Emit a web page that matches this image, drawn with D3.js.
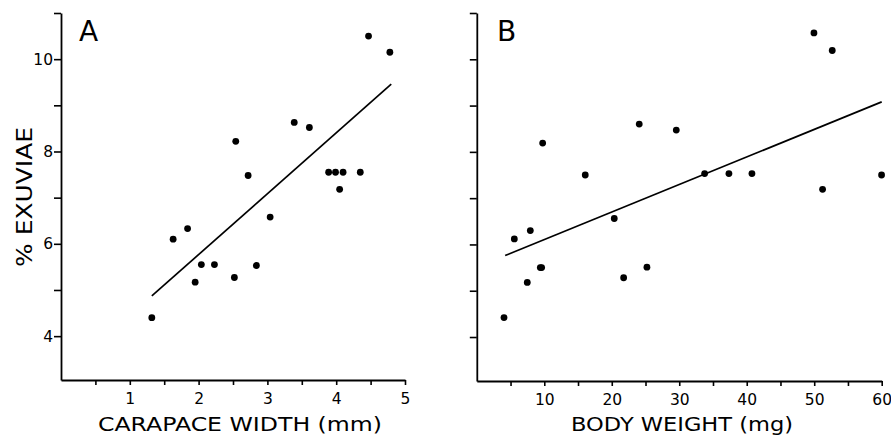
<!DOCTYPE html>
<html>
<head>
<meta charset="utf-8">
<script src="https://cdn.jsdelivr.net/npm/d3@7"></script>
<style>
  html, body { margin: 0; padding: 0; background: #fff; }
  svg { display: block; }
  text { font-family: "DejaVu Sans", sans-serif; fill: #000; }
</style>
</head>
<body>
<svg id="chart" width="891" height="437"></svg>
<script>
// ---------- data ----------
const carapaceWidth = [4.47, 4.78, 3.39, 3.61, 2.54, 2.72, 3.89, 3.99, 4.10, 4.35, 4.05, 3.04, 1.63, 1.84, 2.04, 2.23, 1.95, 2.52, 2.84, 1.32];
const exuviaeA      = [10.50, 10.15, 8.63, 8.52, 8.22, 7.48, 7.55, 7.55, 7.55, 7.55, 7.18, 6.58, 6.10, 6.33, 5.55, 5.55, 5.17, 5.27, 5.53, 4.40];
const bodyWeight    = [49.96, 52.67, 24.07, 29.56, 9.76, 16.07, 33.76, 37.36, 40.77, 59.98, 51.24, 20.37, 5.56, 7.93, 9.41, 9.61, 7.48, 21.76, 25.21, 4.03];
const exuviaeB      = [10.57, 10.19, 8.60, 8.47, 8.19, 7.50, 7.53, 7.53, 7.53, 7.50, 7.19, 6.56, 6.12, 6.30, 5.50, 5.50, 5.18, 5.28, 5.51, 4.42];
const fitA = [[1.32, 4.87], [4.80, 9.46]];
const fitB = [[4.2, 5.76], [60.0, 9.08]];
const yTicks = [4, 5, 6, 7, 8, 9, 10, 11];
const yLabels = [4, 6, 8, 10];
const xTicksA = [0.5, 1, 1.5, 2, 2.5, 3, 3.5, 4, 4.5, 5];
const xLabelsA = [1, 2, 3, 4, 5];
const xTicksB = [5, 10, 15, 20, 25, 30, 35, 40, 45, 50, 55, 60];
const xLabelsB = [10, 20, 30, 40, 50, 60];

// ---------- drawing ----------
const svg = d3.select("#chart");

function panel(cfg) {
  const g = svg.append("g");
  const x = d3.scaleLinear().domain(cfg.xDomain).range(cfg.xRange);
  const y = d3.scaleLinear().domain([3.05, 11]).range([cfg.bottom, 13]);

  const yAxis = d3.axisLeft(y).tickValues(yTicks).tickSize(7).tickSizeOuter(0).tickPadding(1)
    .tickFormat(d => (cfg.showYLabels && yLabels.includes(d)) ? d : "");
  const ya = g.append("g").attr("transform", `translate(${cfg.xRange[0]},0)`).call(yAxis);

  const xAxis = d3.axisBottom(x).tickValues(cfg.xTicks).tickSize(5).tickSizeOuter(0).tickPadding(8)
    .tickFormat(d => cfg.xLabels.includes(d) ? d : "");
  const xa = g.append("g").attr("transform", `translate(0,${cfg.bottom})`).call(xAxis);

  [ya, xa].forEach(a => {
    a.select(".domain").attr("stroke", "#000").attr("stroke-width", 1.8);
    a.selectAll(".tick line").attr("stroke", "#000").attr("stroke-width", 1.6);
    a.selectAll(".tick text").style("font-family", "DejaVu Sans, sans-serif")
      .style("font-size", "15.5px").attr("fill", "#000");
  });

  // regression line
  g.append("path")
    .datum(cfg.fit)
    .attr("d", d3.line().x(d => x(d[0])).y(d => y(d[1])))
    .attr("fill", "none").attr("stroke", "#000").attr("stroke-width", 1.7);

  // points
  g.selectAll("circle.pt")
    .data(cfg.xs.map((v, i) => [v, cfg.ys[i]]))
    .join("circle")
    .attr("class", "pt")
    .attr("cx", d => x(d[0])).attr("cy", d => y(d[1]))
    .attr("r", 3.4).attr("fill", "#000");

  // panel letter
  g.append("text").attr("x", cfg.letterX).attr("y", 41)
    .style("font-size", "28px").text(cfg.letter);

  // x title
  g.append("text")
    .attr("x", cfg.titleX).attr("y", 431)
    .attr("text-anchor", "middle")
    .attr("textLength", cfg.titleLen).attr("lengthAdjust", "spacingAndGlyphs")
    .style("font-size", "20px").text(cfg.title);
}

panel({
  xDomain: [0, 5], xRange: [61, 405], bottom: 380,
  xTicks: xTicksA, xLabels: xLabelsA, showYLabels: true,
  xs: carapaceWidth, ys: exuviaeA, fit: fitA,
  letter: "A", letterX: 79,
  title: "CARAPACE WIDTH (mm)", titleX: 240, titleLen: 284
});

panel({
  xDomain: [0, 60], xRange: [476.8, 881.7], bottom: 381,
  xTicks: xTicksB, xLabels: xLabelsB, showYLabels: false,
  xs: bodyWeight, ys: exuviaeB, fit: fitB,
  letter: "B", letterX: 497,
  title: "BODY WEIGHT (mg)", titleX: 682, titleLen: 222
});

// y title
svg.append("text")
  .attr("transform", "translate(32,197) rotate(-90)")
  .attr("text-anchor", "middle")
  .attr("textLength", 140).attr("lengthAdjust", "spacingAndGlyphs")
  .style("font-size", "22px")
  .text("% EXUVIAE");
</script>
</body>
</html>
